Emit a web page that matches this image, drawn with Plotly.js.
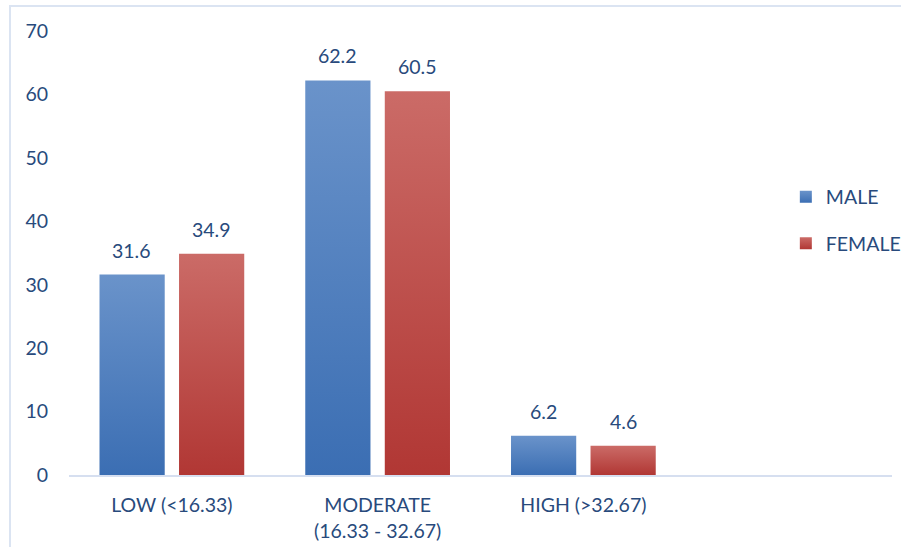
<!DOCTYPE html>
<html>
<head>
<meta charset="utf-8">
<script src="https://cdn.plot.ly/plotly-3.0.1.min.js"></script>
<style>
  html, body { margin: 0; padding: 0; background: #fff; }
  #frame { position: absolute; left: 9px; top: 5px; width: 1000px; height: 1000px;
           border-left: 2px solid #dbe4f2; border-top: 2px solid #dbe4f2; }
  #chart { position: absolute; left: 0; top: 0; width: 901px; height: 547px; }
</style>
</head>
<body>
<div id="frame"></div>
<div id="chart"></div>
<script>
const categories = ["LOW (<16.33)", "MODERATE<br>(16.33 - 32.67)", "HIGH (>32.67)", " "];
const maleValues = [31.6, 62.2, 6.2];
const femaleValues = [34.9, 60.5, 4.6];
const seriesNames = ["MALE", "FEMALE"];
const yTicks = [0, 10, 20, 30, 40, 50, 60, 70];

const fontFam = "Lato, 'Open Sans', sans-serif";
const textColor = "#284a7c";
const fs = 19.5;

const traces = [
  { type: "bar", name: seriesNames[0], x: categories.slice(0, 3), y: maleValues,
    marker: { color: "#4f7fbf" }, legendgroup: "m", hoverinfo: "none" },
  { type: "bar", name: seriesNames[1], x: categories.slice(0, 3), y: femaleValues,
    marker: { color: "#bd4b48" }, legendgroup: "f", hoverinfo: "none" }
];

const annotations = [];
[maleValues, femaleValues].forEach((vals, s) => {
  vals.forEach((v, i) => {
    annotations.push({ x: categories[i], y: v, xref: "x", yref: "y",
      text: v.toFixed(1), showarrow: false, yanchor: "bottom",
      xshift: s === 0 ? -40 : 40, yshift: 11,
      font: { family: fontFam, size: fs, color: textColor } });
  });
});

const layout = {
  width: 901, height: 547,
  margin: { l: 69, r: 9, t: 31, b: 72, autoexpand: false },
  paper_bgcolor: "rgba(0,0,0,0)", plot_bgcolor: "rgba(0,0,0,0)",
  barmode: "group", bargap: 0.227, bargroupgap: 0.18,
  font: { family: fontFam, size: fs, color: textColor },
  xaxis: { type: "category", categoryorder: "array", categoryarray: categories, range: [-0.5, 3.5],
    showline: true, linecolor: "#d6dff0", linewidth: 2, ticks: "", showgrid: false,
    ticklabelstandoff: 12, tickfont: { family: fontFam, size: fs, color: textColor } },
  yaxis: { range: [0, 70], tickvals: yTicks, showgrid: false, zeroline: false,
    showline: false, ticks: "", ticklabelstandoff: 20,
    tickfont: { family: fontFam, size: fs, color: textColor } },
  legend: { xref: "paper", yref: "paper", x: 0.871, y: 0.574, xanchor: "left", yanchor: "middle",
    traceorder: "grouped", tracegroupgap: 18, borderwidth: 0,
    font: { family: fontFam, size: fs, color: textColor }, bgcolor: "rgba(0,0,0,0)" },
  annotations: annotations,
  showlegend: true
};

Plotly.newPlot("chart", traces, layout, { displayModeBar: false, staticPlot: true }).then(gd => {
  const svg = gd.querySelector("svg.main-svg");
  const ns = "http://www.w3.org/2000/svg";
  let defs = svg.querySelector("defs");
  if (!defs) { defs = document.createElementNS(ns, "defs"); svg.insertBefore(defs, svg.firstChild); }
  function grad(id, top, bot) {
    const g = document.createElementNS(ns, "linearGradient");
    g.setAttribute("id", id); g.setAttribute("x1", "0"); g.setAttribute("y1", "0");
    g.setAttribute("x2", "0"); g.setAttribute("y2", "1");
    [[0, top], [1, bot]].forEach(([o, c]) => {
      const st = document.createElementNS(ns, "stop");
      st.setAttribute("offset", o); st.setAttribute("stop-color", c);
      g.appendChild(st);
    });
    defs.appendChild(g);
  }
  grad("gM", "#6a93ca", "#3b6eb3");
  grad("gF", "#cb6b67", "#b13734");
  const traceGroups = gd.querySelectorAll(".barlayer .trace");
  ["gM", "gF"].forEach((id, k) => {
    if (traceGroups[k]) traceGroups[k].querySelectorAll("path").forEach(p => { p.style.fill = "url(#" + id + ")"; });
  });
  const legendPts = gd.querySelectorAll(".legend .traces .legendpoints path");
  ["gM", "gF"].forEach((id, k) => { if (legendPts[k]) legendPts[k].style.fill = "url(#" + id + ")"; });
});
</script>
</body>
</html>
